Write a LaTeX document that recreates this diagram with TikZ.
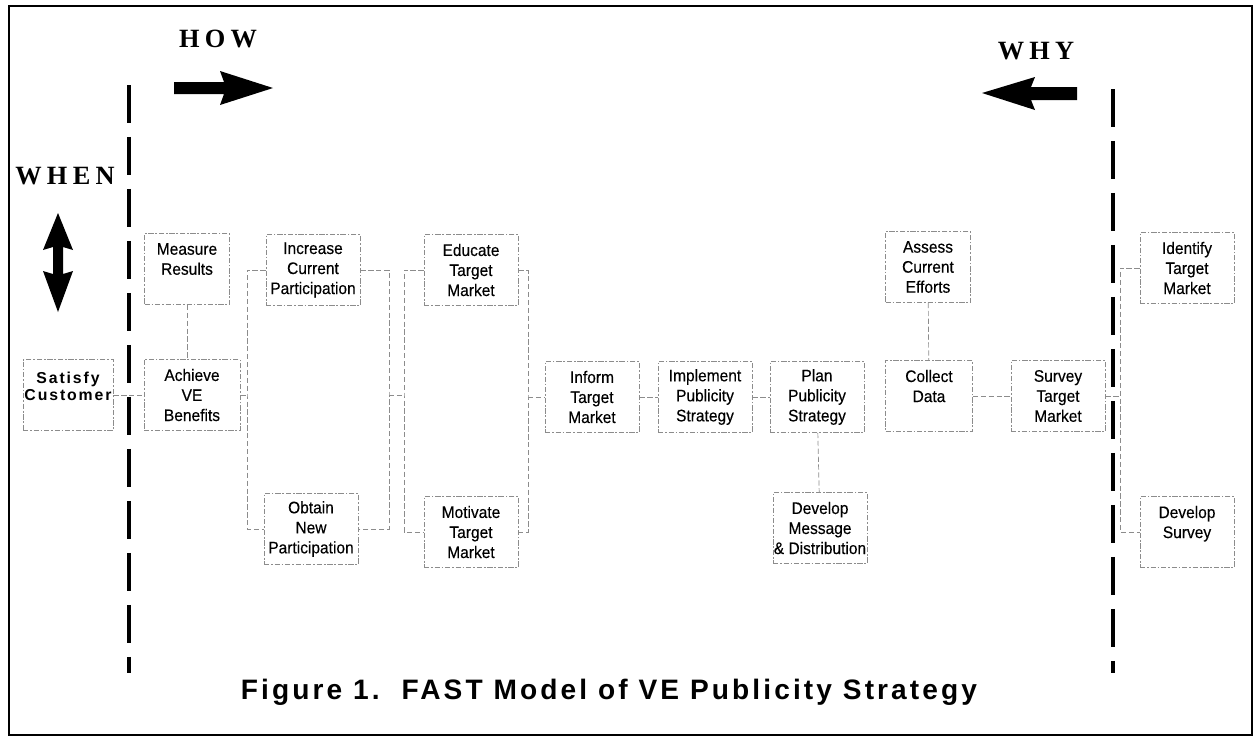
\documentclass[tikz,border=0pt]{standalone}
\usepackage{fontspec}
\usepackage{tikz}
\newfontfamily\boxfont{Liberation Sans}[FakeStretch=0.93,FakeBold=0.3]
\newfontfamily\spacedsans{Liberation Sans}[LetterSpace=12]
\newfontfamily\titlefont{Liberation Sans}[LetterSpace=11]
\newfontfamily\headfont{Liberation Serif}[LetterSpace=20]
\tikzset{
  fn/.style={draw=black!45, line width=0.4pt, dash pattern=on 3pt off 1pt on 1pt off 1pt,
    minimum width=1.88cm, minimum height=1.42cm, inner sep=0pt, align=center,
    font=\boxfont\fontsize{9.5}{11.4}\selectfont},
  link/.style={draw=black!45, line width=0.4pt, dash pattern=on 3pt off 1.5pt},
  divider/.style={line width=2pt, dash pattern=on 0.76cm off 0.28cm},
  axis/.style={font=\headfont\bfseries\fontsize{15}{18}\selectfont}
}
\begin{document}
\begin{tikzpicture}[x=0.02cm,y=-0.02cm]
\useasboundingbox (0,0) rectangle (1255,738);
\draw[line width=1pt] (9,6) rectangle (1252,735);
\draw[divider] (129,85) -- (129,673);
\draw[divider] (1113,89) -- (1113,673);
\node[axis] (how) at (218,39) {HOW};
\node[axis] (why) at (1036,51) {WHY};
\node[axis] (when) at (65,176) {WHEN};
\fill (174,82) -- (224,82) -- (220,71) -- (273,88) -- (220,105) -- (224,94) -- (174,94) -- cycle;
\fill (1077,87) -- (1031,87) -- (1035,77) -- (982,93) -- (1035,110) -- (1031,100) -- (1077,100) -- cycle;
\fill (58,213) -- (73,250) -- (63,247) -- (63,274) -- (73,271) -- (58,312) -- (43,271) -- (53,274) -- (53,247) -- (43,250) -- cycle;
\node[fn, minimum width=1.8cm, font=\spacedsans\bfseries\fontsize{9}{9.6}\selectfont] (satisfy) at (68,395) {Satisfy\\Customer\\\mbox{}};
\node[fn, minimum width=1.92cm] (achieve) at (192,395) {Achieve\\VE\\Benefits};
\node[fn, minimum width=1.7cm] (measure) at (187,269) {Measure\\Results\\\mbox{}};
\node[fn] (increase) at (313,270) {Increase\\Current\\Participation};
\node[fn] (obtain) at (311,529) {Obtain\\New\\Participation};
\node[fn] (educate) at (471,270) {Educate\\Target\\Market};
\node[fn] (motivate) at (471,532) {Motivate\\Target\\Market};
\node[fn] (inform) at (592,397) {Inform\\Target\\Market};
\node[fn] (implement) at (705,397) {Implement\\Publicity\\Strategy};
\node[fn] (plan) at (817,397) {Plan\\Publicity\\Strategy};
\node[fn] (message) at (820,528) {Develop\\Message\\\& Distribution};
\node[fn, minimum width=1.74cm] (collect) at (929,396) {Collect\\Data\\\mbox{}};
\node[fn, minimum width=1.7cm] (assess) at (928,267) {Assess\\Current\\Efforts};
\node[fn] (survey) at (1058,396) {Survey\\Target\\Market};
\node[fn] (identify) at (1187,268) {Identify\\Target\\Market};
\node[fn] (devsurvey) at (1187,532) {Develop\\Survey\\\mbox{}};
\coordinate (a1) at (247,395);
\coordinate (b1) at (389,395);
\coordinate (b2) at (404,395);
\coordinate (c1) at (528,397);
\coordinate (d1) at (1120,396);
\draw[link] (satisfy) -- (achieve);
\draw[link] (measure.south) -- (measure.south |- achieve.north);
\draw[link] (achieve) -- (a1);
\draw[link] (increase.west) -| (a1) |- (obtain.west);
\draw[link] (increase.east) -| (b1) |- (obtain.east);
\draw[link] (b1) -- (b2);
\draw[link] (educate.west) -| (b2) |- (motivate.west);
\draw[link] (educate.east) -| (c1) |- (motivate.east);
\draw[link] (c1) -- (inform.west);
\draw[link] (inform) -- (implement);
\draw[link] (implement) -- (plan);
\draw[link] (plan) -- (message);
\draw[link] (assess) -- (collect);
\draw[link] (collect) -- (survey);
\draw[link] (survey) -- (d1);
\draw[link] (identify.west) -| (d1) |- (devsurvey.west);
\node[font=\titlefont\bfseries\fontsize{16}{18}\selectfont] (title) at (609,692) {Figure 1.\ \ FAST Model of VE Publicity Strategy};
\end{tikzpicture}
\end{document}
